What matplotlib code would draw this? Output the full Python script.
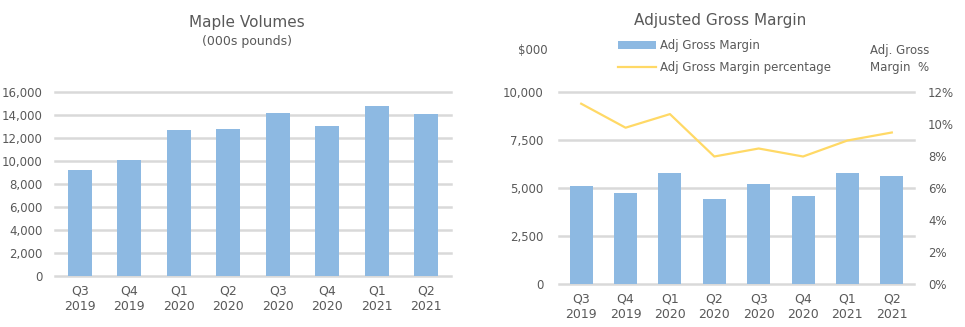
import matplotlib
matplotlib.use("Agg")
import matplotlib.pyplot as plt
from matplotlib.ticker import FuncFormatter, MultipleLocator

quarters = ["Q3\n2019", "Q4\n2019", "Q1\n2020", "Q2\n2020",
            "Q3\n2020", "Q4\n2020", "Q1\n2021", "Q2\n2021"]
maple_volumes = [9200, 10100, 12700, 12800, 14150, 13000, 14750, 14050]
adj_gross_margin = [5100, 4700, 5750, 4400, 5200, 4550, 5750, 5600]
adj_gross_margin_pct = [11.25, 9.75, 10.6, 7.95, 8.45, 7.95, 8.95, 9.45]

BAR = "#8DB9E2"
LINE = "#FFD966"
GRID = "#D9D9D9"
TEXT = "#595959"

plt.rcParams["font.family"] = ["DejaVu Sans"]
plt.rcParams["text.color"] = TEXT

fig = plt.figure(figsize=(9.65, 3.27), dpi=100)
W, H = 965, 327


def px_axes(x0, x1, y_top, y_bot):
    return fig.add_axes([x0 / W, (H - y_bot) / H, (x1 - x0) / W, (y_bot - y_top) / H])


def style(ax):
    for s in ax.spines.values():
        s.set_visible(False)
    ax.grid(axis="y", color=GRID, linewidth=1.8)
    for gl in ax.get_ygridlines():
        gl.set_clip_on(False)
    ax.set_axisbelow(True)
    ax.tick_params(axis="both", length=0, colors=TEXT, labelsize=8.5)
    ax.set_xlim(-0.5, len(quarters) - 0.5)
    ax.set_xticks(range(len(quarters)))
    ax.set_xticklabels(quarters, linespacing=1.3, fontsize=9)
    ax.tick_params(axis="x", pad=6)


thousands = FuncFormatter(lambda v, p: f"{v:,.0f}")

# Maple volumes
ax1 = px_axes(55, 451, 91.7, 275.7)
ax1.bar(range(len(quarters)), maple_volumes, width=0.48, color=BAR)
ax1.set_ylim(0, 16000)
ax1.yaxis.set_major_locator(MultipleLocator(2000))
ax1.yaxis.set_major_formatter(thousands)
style(ax1)
ax1.tick_params(axis="y", pad=9)
fig.text(247 / W, 1 - 22 / H, "Maple Volumes", ha="center", va="center", fontsize=11, color=TEXT)
fig.text(247 / W, 1 - 42 / H, "(000s pounds)", ha="center", va="center", fontsize=9, color=TEXT)

# Adjusted gross margin
ax2 = px_axes(559, 914, 91.7, 283.7)
bars = ax2.bar(range(len(quarters)), adj_gross_margin, width=0.52, color=BAR,
               label="Adj Gross Margin")
ax2.set_ylim(0, 10000)
ax2.yaxis.set_major_locator(MultipleLocator(2500))
ax2.yaxis.set_major_formatter(thousands)
style(ax2)
ax2.tick_params(axis="y", pad=11)

ax3 = ax2.twinx()
line, = ax3.plot(range(len(quarters)), adj_gross_margin_pct, color=LINE, linewidth=1.6,
                 label="Adj Gross Margin percentage")
for s in ax3.spines.values():
    s.set_visible(False)
ax3.set_ylim(0, 12)
ax3.yaxis.set_major_locator(MultipleLocator(2))
ax3.yaxis.set_major_formatter(FuncFormatter(lambda v, p: f"{v:.0f}%"))
ax3.tick_params(axis="y", length=0, colors=TEXT, labelsize=8.5, pad=10)

fig.text(720 / W, 1 - 20 / H, "Adjusted Gross Margin", ha="center", va="center", fontsize=11, color=TEXT)
fig.text(533 / W, 1 - 50 / H, "$000", ha="center", va="center", fontsize=8.5, color=TEXT)
fig.text(870 / W, 1 - 59 / H, "Adj. Gross\nMargin  %", ha="left", va="center", fontsize=8.5,
         color=TEXT, linespacing=1.4)

fig.legend([bars, line], ["Adj Gross Margin", "Adj Gross Margin percentage"],
           loc="upper left", bbox_to_anchor=(618 / W, 1 - 39 / H), frameon=False,
           fontsize=8.5, handlelength=3.2, handleheight=0.6, labelspacing=0.75,
           handletextpad=0.4, borderaxespad=0, borderpad=0)

fig.savefig("out.png", dpi=100)
